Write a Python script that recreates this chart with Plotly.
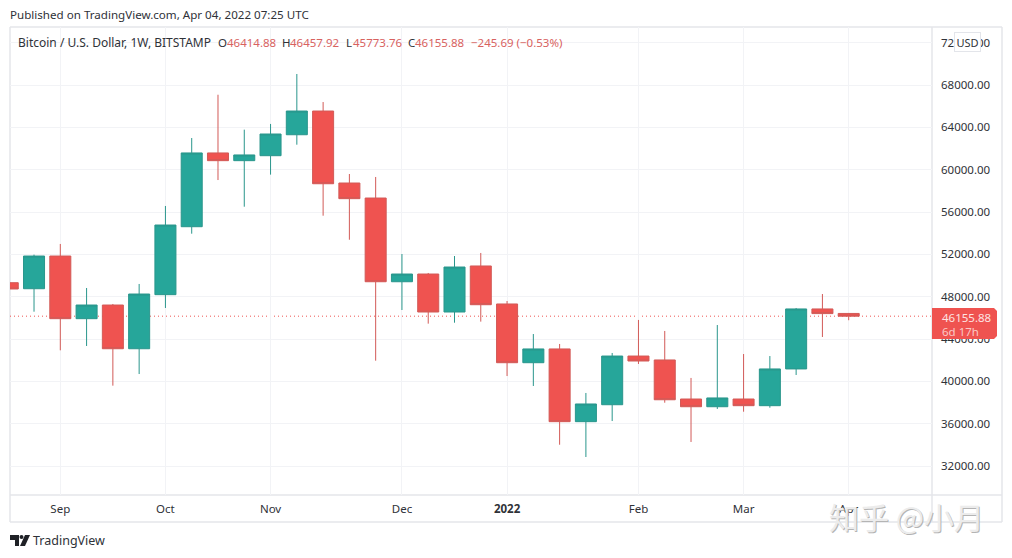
import plotly.graph_objects as go
import datetime as dt

# ---------- data ----------
first_week = "2021-08-23"
opens  = [49320,48750,51840,45920,47210,43080,48190,54610,61580,60850,61320,63300,65540,58740,57320,
          49410,50140,46550,50900,47310,41760,43060,36190,37790,42390,42020,38330,37600,38330,37700,41170,46840,46414.88]
highs  = [49700,51970,52980,48820,47310,49200,56570,62990,67080,63780,64320,69040,66390,59590,59310,
          52030,50240,51840,52130,47590,44470,43530,38900,42680,45800,44760,40320,45320,42580,42390,46930,48250,46457.92]
lows   = [48300,46580,42930,43340,39590,40690,46930,53950,59020,56500,59530,62360,55650,53380,41950,
          46740,45450,45540,45640,40500,39560,34010,32850,36250,41640,37980,34270,37390,37130,37510,40600,44190,45773.76]
closes = [48725,51840,45920,47210,43080,48250,54770,61580,60850,61390,63370,65540,58670,57260,49410,
          50140,46550,50800,47240,41760,43060,36190,37860,42390,41920,38260,37600,38430,37700,41170,46840,46400,46155.88]
weeks = [(dt.date.fromisoformat(first_week) + dt.timedelta(days=7*i)).isoformat() for i in range(len(opens))]

x_tick_dates = ["2021-09-06","2021-10-04","2021-11-01","2021-12-06","2022-01-03","2022-02-07","2022-03-07","2022-04-04"]
x_tick_text  = ["Sep","Oct","Nov","Dec","<b>2022</b>","Feb","Mar","Apr"]
y_ticks = [32000,36000,40000,44000,48000,52000,56000,60000,64000,68000,72000]
last_price = 46155.88
x_range = ["2021-08-23 14:24","2022-04-26 04:30"]
y_range = [29260,73480]

GREEN, RED = "#26a69a", "#ef5350"
FONT = "Noto Sans"
SIZE = 11.5
TEXT = "#2f3238"
FRAME = "#e4e6ea"
GRID = "#f2f3f6"
L, T, R, B = 10, 27, 932, 495
W, H = 1012, 558

def px(x): return (x - L) / (R - L)
def py(y): return (B - y) / (B - T)

fig = go.Figure(go.Candlestick(
    x=weeks, open=opens, high=highs, low=lows, close=closes,
    increasing=dict(line=dict(color="#2a968c", width=1), fillcolor=GREEN),
    decreasing=dict(line=dict(color="#d25a57", width=1), fillcolor=RED),
    whiskerwidth=0, hoverinfo="skip", showlegend=False,
))

def label(x, y, text, size=SIZE, color=TEXT, family=FONT, anchor="left", pad=0, **kw):
    fig.add_annotation(xref="paper", yref="paper", x=px(x - 1 if anchor == "left" else x), y=py(y), text=text,
                       showarrow=False, xanchor=anchor, yanchor="middle",
                       font=dict(size=size, color=color, family=family), borderpad=pad, **kw)

def frame_line(x0, y0, x1, y1, color=FRAME, width=1.5):
    fig.add_shape(type="line", xref="paper", yref="paper", x0=px(x0), y0=py(y0), x1=px(x1), y1=py(y1),
                  line=dict(color=color, width=width), layer="below")

frame_line(L, T, 1002, T); frame_line(L, T, L, 522); frame_line(1002, T, 1002, 522); frame_line(L, 522, 1002, 522)
frame_line(R, T, R, 522); frame_line(L, B, 1002, B)

fig.add_shape(type="line", xref="paper", yref="y", x0=0, x1=1, y0=last_price, y1=last_price,
              line=dict(color=RED, width=1, dash="1px,3px"), layer="below")

# price tag
def P(x, y): return f"{px(x):.5f} {py(y):.5f}"
fig.add_shape(type="path", xref="paper", yref="paper", layer="above", fillcolor=RED, line=dict(width=0),
              path=f"M {P(932,308)} L {P(994,308)} L {P(997,311)} L {P(997,336)} L {P(994,339)} L {P(932,339)} Z")
label(942, 317, f"{last_price:.2f}", color="#fde3e2")
label(942, 331, "6d 17h", color="#fbc9c7")

# logo
fig.add_shape(type="path", xref="paper", yref="paper", fillcolor="#1f2126", line=dict(width=0),
              path=f"M {P(10,535)} L {P(19,535)} L {P(19,546)} L {P(15,546)} L {P(15,540)} L {P(10,540)} Z")
fig.add_shape(type="path", xref="paper", yref="paper", fillcolor="#1f2126", line=dict(width=0),
              path=f"M {P(25,535)} L {P(30,535)} L {P(25,546)} L {P(20,546)} Z")
fig.add_shape(type="circle", xref="paper", yref="paper", fillcolor="#1f2126", line=dict(width=0),
              x0=px(19.5), x1=px(23.5), y0=py(539), y1=py(535))

label(10, 14, "Published on TradingView.com, Apr 04, 2022 07:25 UTC", size=11.6)
label(18, 42, "Bitcoin / U.S. Dollar, 1W, BITSTAMP", size=12)
VAL = "#d8625f"
for lx, key, vx, val in [(218,"O",227,"46414.88"),(282,"H",290,"46457.92"),(346,"L",353,"45773.76"),(408,"C",415,"46155.88")]:
    label(lx, 42, key)
    label(vx, 42, val, color=VAL)
label(471, 42, "−245.69 (−0.53%)", color=VAL)
label(33, 540, "TradingView", size=12.5)

# USD badge
label(967, 42, "USD", size=11, anchor="center", pad=1.5, bgcolor="white", bordercolor="#e3e5ea", borderwidth=1)

# watermark
WM = "知乎\u00a0@小月"
label(830, 517, WM, size=30, color="#b4b4b4", family="Noto Sans CJK SC")
label(829, 516, WM, size=30, color="#ececec", family="Noto Sans CJK SC")

fig.update_layout(
    width=W, height=H, autosize=False,
    margin=dict(l=L, r=W-R, t=T, b=H-B, pad=0),
    paper_bgcolor="white", plot_bgcolor="white", boxgap=0.2, boxgroupgap=0, showlegend=False,
    font=dict(family=FONT, size=SIZE, color=TEXT),
    xaxis=dict(type="date", range=x_range, rangeslider=dict(visible=False), tickmode="array",
               tickvals=x_tick_dates, ticktext=x_tick_text, showgrid=True, gridcolor=GRID, gridwidth=1,
               zeroline=False, showline=False, ticks="", ticklabelstandoff=5, tickfont=dict(size=SIZE, color=TEXT)),
    yaxis=dict(side="right", range=y_range, tickmode="array", tickvals=y_ticks, tickformat=".2f",
               showgrid=True, gridcolor=GRID, gridwidth=1, zeroline=False, showline=False, ticks="",
               ticklabelstandoff=8, tickfont=dict(size=SIZE, color=TEXT)),
)
fig.write_html("out.html", post_script="document.body.style.margin='0';", config=dict(displayModeBar=False))
